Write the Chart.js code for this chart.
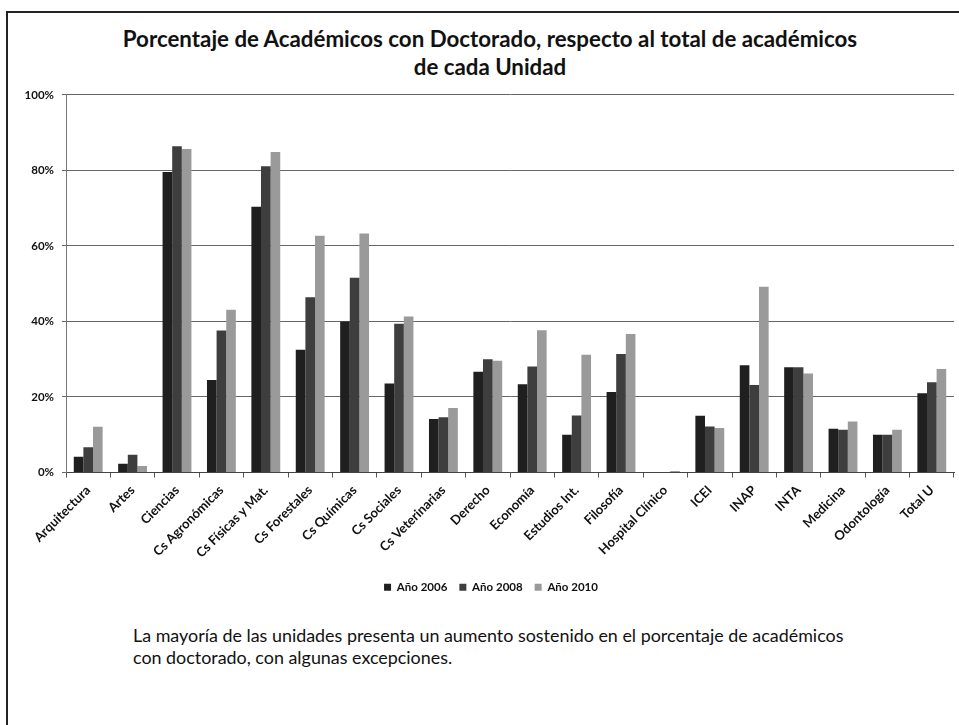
<!DOCTYPE html>
<html><head><meta charset="utf-8">
<script src="https://cdn.jsdelivr.net/npm/chart.js@4"></script>
<style>
html,body{margin:0;padding:0;background:#fff;}
body{width:959px;height:725px;position:relative;overflow:hidden;font-family:Lato, sans-serif;}
#frame{position:absolute;left:6px;top:11px;width:1000px;height:800px;border-left:2px solid #222;border-top:2px solid #222;}
#title{position:absolute;left:0;width:980px;top:25px;text-align:center;font-weight:bold;font-size:22.3px;line-height:28px;color:#111;}
#wrap{position:absolute;left:0;top:80px;width:959px;height:525px;}
#note{position:absolute;left:133px;top:624px;font-size:17.9px;line-height:22px;color:#111;}
</style>
</head><body>
<div id="frame"></div>
<div id="title">Porcentaje de Académicos con Doctorado, respecto al total de académicos<br>de cada Unidad</div>
<div id="wrap"><canvas id="c"></canvas></div>
<div id="note">La mayoría de las unidades presenta un aumento sostenido en el porcentaje de académicos<br>con doctorado, con algunas excepciones.</div>
<script>
const categories = ["Arquitectura","Artes","Ciencias","Cs Agronómicas","Cs Físicas y Mat.","Cs Forestales","Cs Químicas","Cs Sociales","Cs Veterinarias","Derecho","Economía","Estudios Int.","Filosofía","Hospital Clínico","ICEI","INAP","INTA","Medicina","Odontología","Total U"];
const seriesNames = ["Año 2006","Año 2008","Año 2010"];
const values2006 = [4.2, 2.3, 79.6, 24.5, 70.4, 32.5, 40.0, 23.6, 14.2, 26.7, 23.4, 10.0, 21.3, 0, 15.0, 28.4, 27.9, 11.6, 10.0, 21.0];
const values2008 = [6.7, 4.7, 86.4, 37.6, 81.1, 46.4, 51.6, 39.4, 14.6, 30.0, 28.1, 15.1, 31.4, 0, 12.2, 23.2, 27.9, 11.3, 10.0, 23.9];
const values2010 = [12.1, 1.7, 85.7, 43.1, 84.9, 62.7, 63.3, 41.3, 17.1, 29.6, 37.7, 31.2, 36.7, 0.4, 11.8, 49.2, 26.2, 13.5, 11.3, 27.4];
const yTicks = [0, 20, 40, 60, 80, 100];

const colors = ["#1f1f1f", "#3e3e3e", "#9a9a9a"];
const FONT = "Lato, sans-serif";

const legendShift = {
  id: 'legendShift',
  afterLayout(chart) {
    const lg = chart.legend;
    if (lg) { lg.left += 14; lg.right += 14; lg.top += 2; lg.bottom += 2; }
  }
};

new Chart(document.getElementById('c'), {
  type: 'bar',
  data: {
    labels: categories,
    datasets: [values2006, values2008, values2010].map((d, i) => ({
      label: seriesNames[i],
      data: d,
      backgroundColor: colors[i],
      borderWidth: 0,
      categoryPercentage: 0.65,
      barPercentage: 1.0
    }))
  },
  plugins: [legendShift],
  options: {
    responsive: true,
    maintainAspectRatio: false,
    animation: false,
    layout: { padding: { top: 14, right: 5, left: 0, bottom: 4 } },
    plugins: {
      title: { display: false },
      tooltip: { enabled: false },
      legend: {
        position: 'bottom',
        labels: {
          boxWidth: 7, boxHeight: 7, padding: 12,
          color: '#111',
          font: { family: FONT, size: 11.5, weight: 'bold' }
        }
      }
    },
    scales: {
      x: {
        afterFit: s => { s.height = 95; },
        grid: { offset: true, drawOnChartArea: false, drawTicks: true, tickLength: 5, color: '#555' },
        border: { color: '#444', width: 1 },
        ticks: {
          minRotation: 45, maxRotation: 45, autoSkip: false, padding: 5,
          color: '#111',
          font: { family: FONT, size: 13, weight: 'bold' }
        }
      },
      y: {
        min: 0, max: 100,
        afterFit: s => { s.width = 66; },
        afterBuildTicks: s => { s.ticks = yTicks.map(v => ({ value: v })); },
        grid: { color: '#666', lineWidth: 1, tickLength: 4, drawTicks: true },
        border: { color: '#777', width: 1 },
        ticks: {
          padding: 8, color: '#111',
          font: { family: FONT, size: 11.5, weight: 'bold' },
          callback: v => v + '%'
        }
      }
    }
  }
});
</script>
</body></html>
